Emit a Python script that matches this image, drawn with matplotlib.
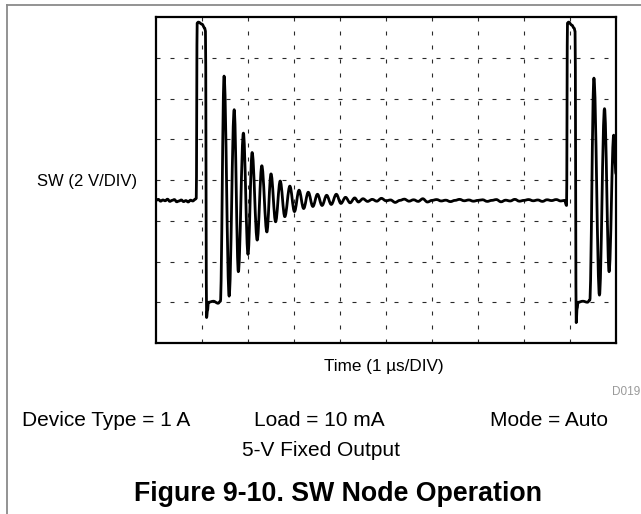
import matplotlib
matplotlib.use("Agg")
import matplotlib.pyplot as plt
from matplotlib.lines import Line2D
from matplotlib.path import Path
from matplotlib.patches import PathPatch

plt.rcParams['font.family'] = ['Liberation Sans', 'DejaVu Sans']

# ---- data: SW node trace, vertices (time in µs, V) ----
time_us = [
    0.00, 0.05, 0.10, 0.15, 0.20, 0.25, 0.30, 0.35, 0.40, 0.45, 0.50, 0.55,
    0.60, 0.65, 0.70, 0.75, 0.80, 0.85, 0.875,
    0.895, 0.92, 1.00, 1.06, 1.075,
    1.10, 1.12, 1.14, 1.25, 1.35, 1.40,
    1.48, 1.59, 1.70, 1.79, 1.90, 2.00, 2.09, 2.20, 2.30, 2.41, 2.50, 2.60,
    2.70, 2.80, 2.91, 3.01, 3.11, 3.21, 3.31, 3.41, 3.51, 3.61, 3.71, 3.81,
    3.92, 4.02, 4.12, 4.22, 4.32,
    4.40, 4.50, 4.60, 4.70, 4.80, 4.90, 5.00, 5.10, 5.20, 5.30, 5.40, 5.50,
    5.60, 5.70, 5.80, 5.90, 6.00, 6.10, 6.20, 6.30, 6.40, 6.50, 6.60, 6.70,
    6.80, 6.90, 7.00, 7.10, 7.20, 7.30, 7.40, 7.50, 7.60, 7.70, 7.80, 7.90,
    8.00, 8.10, 8.20, 8.30, 8.40, 8.50, 8.60, 8.70, 8.80, 8.88, 8.925,
    8.945, 8.97, 9.04, 9.09, 9.11,
    9.135, 9.155, 9.175, 9.28, 9.38, 9.43,
    9.52, 9.64, 9.75, 9.85, 9.95, 10.00,
]
sw_volts = [
    5.00, 5.05, 4.96, 5.02, 4.98, 5.06, 4.95, 5.00, 5.04, 4.93, 4.97, 5.02,
    4.94, 4.99, 4.92, 5.01, 4.97, 5.05, 5.10,
    13.70, 13.75, 13.65, 13.45, 13.30,
    -0.75, -0.40, 0.00, 0.05, -0.05, 0.05,
    11.10, 0.30, 9.45, 1.50, 8.30, 2.35, 7.35, 3.05, 6.70, 3.45, 6.30, 3.95,
    5.95, 4.20, 5.70, 4.45, 5.50, 4.60, 5.40, 4.70, 5.30, 4.75, 5.25, 4.80,
    5.30, 4.85, 5.15, 4.88, 5.12,
    4.92, 5.08, 4.95, 5.05, 4.96, 5.10, 4.98, 5.02, 4.90, 5.00, 5.06, 4.96,
    5.03, 4.95, 5.08, 4.92, 5.00, 5.04, 4.97, 5.01, 4.94, 5.00, 5.05, 4.98,
    5.02, 4.96, 5.00, 5.03, 4.95, 5.00, 5.04, 4.93, 5.01, 4.97, 5.05, 4.96,
    5.00, 5.04, 4.98, 5.02, 4.95, 5.03, 4.99, 5.04, 4.97, 5.00, 4.75,
    13.70, 13.75, 13.60, 13.45, 13.30,
    -1.00, -0.30, 0.00, 0.05, 0.00, 0.10,
    11.00, 0.35, 9.50, 1.50, 8.20, 6.30,
]

x_divs = [1, 2, 3, 4, 5, 6, 7, 8, 9]          # µs graticule
y_divs = [0, 2, 4, 6, 8, 10, 12]               # V graticule

fig = plt.figure(figsize=(6.41, 5.14), dpi=100)
ax = fig.add_axes([156 / 641, 1 - 343 / 514, 460 / 641, 326 / 514])
ax.set_xlim(0, 10)
ax.set_ylim(-2, 14)

grid_ls = (0, (3.6, 9.0))
for xv in x_divs:
    ax.axvline(xv, color='#2a2a2a', lw=0.8, ls=grid_ls, zorder=1)
for yv in y_divs:
    ax.axhline(yv, color='#2a2a2a', lw=0.8, ls=grid_ls, zorder=1)

# smooth scope trace through the read vertices (horizontal tangents at each vertex)
verts = [(time_us[0], sw_volts[0])]
codes = [Path.MOVETO]
for i in range(1, len(time_us)):
    t1, v1 = time_us[i - 1], sw_volts[i - 1]
    t2, v2 = time_us[i], sw_volts[i]
    dt = t2 - t1
    verts += [(t1 + 0.36 * dt, v1), (t2 - 0.36 * dt, v2), (t2, v2)]
    codes += [Path.CURVE4] * 3
trace = PathPatch(Path(verts, codes), facecolor='none', edgecolor='black', lw=2.0,
                  joinstyle='round', capstyle='round', zorder=3, clip_on=True)
ax.add_patch(trace)

ax.set_xticks([])
ax.set_yticks([])
for s in ax.spines.values():
    s.set_linewidth(1.6)
    s.set_color('black')
    s.set_zorder(4)

# outer frame (gray, top & left)
fig.add_artist(Line2D([7 / 641, 1.0], [1 - 4.7 / 514, 1 - 4.7 / 514], color='#8a8a8a', lw=1.3))
fig.add_artist(Line2D([7 / 641, 7 / 641], [1 - 4.7 / 514, 0.0], color='#8a8a8a', lw=1.3))

def fx(px):
    return px / 641

def fy(py):
    return 1 - py / 514

fig.text(fx(87), fy(181), 'SW (2 V/DIV)', ha='center', va='center', fontsize=12)
fig.text(fx(384), fy(366), 'Time (1 \u00b5s/DIV)', ha='center', va='center', fontsize=12.3)
fig.text(fx(640), fy(392), 'D019', ha='right', va='center', fontsize=8.5, color='#9a9a9a')
fig.text(fx(22), fy(421), 'Device Type = 1 A', ha='left', va='center', fontsize=15)
fig.text(fx(319), fy(421), 'Load = 10 mA', ha='center', va='center', fontsize=15)
fig.text(fx(549), fy(421), 'Mode = Auto', ha='center', va='center', fontsize=15)
fig.text(fx(321), fy(450), '5-V Fixed Output', ha='center', va='center', fontsize=15)
fig.text(fx(338), fy(494), 'Figure 9-10. SW Node Operation', ha='center', va='center',
         fontsize=19.3, fontweight='bold')

fig.savefig('out.png', dpi=100)
